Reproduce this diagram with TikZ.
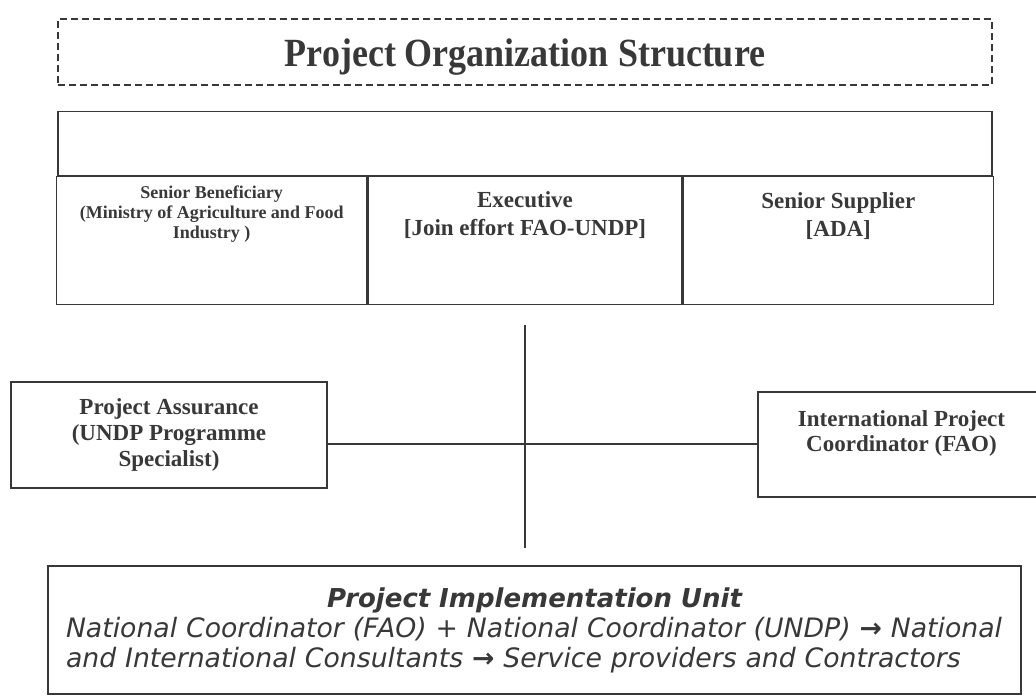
\documentclass[tikz,border=0pt]{standalone}
\usepackage{fontspec}
\setmainfont{Liberation Serif}
\newfontfamily\titlefont[FakeStretch=0.9]{Liberation Serif}
\newfontfamily\piufont{DejaVu Sans}
\usetikzlibrary{positioning}

\definecolor{ink}{gray}{0.22}

\newcommand{\thento}{{\bfseries\upshape →}}

\tikzset{
    box/.style={rectangle, draw=ink, line width=1.3pt, inner sep=0pt},
    cell/.style={box, minimum height=128pt},
    celltext/.style={anchor=north, align=center, inner sep=0pt, text=ink, font=\fontsize{23}{28}\selectfont\bfseries},
    link/.style={draw=ink, line width=1.2pt}
}

\begin{document}
\begin{tikzpicture}[x=1pt, y=-1pt, node distance=0pt, text=ink]
    \path[use as bounding box, clip] (0,0) rectangle (1036,696);

    % Title
    \node[box, dash pattern=on 7pt off 4pt, line width=1.5pt, minimum width=934pt, minimum height=66pt, text height=38pt, text depth=9pt, font=\titlefont\fontsize{40}{44}\selectfont\bfseries] (title) at (525,52) {Project Organization Structure};

    % Project board
    \node[box, minimum width=934pt, minimum height=64pt, below=25pt of title] (board) {};
    \node[cell, minimum width=314pt, below=of board, label={[celltext, yshift=-15pt]90:{Executive\\{[}Join effort FAO-UNDP{]}}}] (exec) {};
    \node[cell, minimum width=310pt, left=of exec, label={[celltext, yshift=-10pt, font=\fontsize{18}{20}\selectfont\bfseries]90:{Senior Beneficiary\\(Ministry of Agriculture and Food\\Industry )}}] (benef) {};
    \node[cell, minimum width=310pt, right=of exec, label={[celltext, yshift=-16pt]90:{Senior Supplier\\{[}ADA{]}}}] (supplier) {};

    % Assurance and coordination
    \node[box, minimum width=316pt, minimum height=106pt, align=center, font=\fontsize{23}{26}\selectfont\bfseries] (assurance) at (169,435) {Project Assurance\\(UNDP Programme\\Specialist)};
    \node[box, minimum width=287pt, minimum height=105pt, label={[celltext, yshift=-19pt, font=\fontsize{23}{25}\selectfont\bfseries]90:{International Project\\Coordinator (FAO)}}] (intl) at (901.5,444.5) {};

    % Implementation unit
    \node[box, minimum width=973pt, minimum height=128pt, text width=937pt, align=left, font=\piufont\fontsize{26.7}{30}\selectfont\itshape] (piu) at (534.5,630) {\makebox[\linewidth]{\fontsize{26}{30}\selectfont\bfseries Project Implementation Unit}\\National Coordinator (FAO) + National Coordinator (UNDP) \thento{} National\\and International Consultants \thento{} Service providers and Contractors};

    % Lines
    \coordinate (spine_top) at (525,325);
    \coordinate (spine_bottom) at (525,548);
    \coordinate (hub) at (525,444);
    \draw[link] (spine_top) -- (spine_bottom);
    \draw[link] (assurance.east |- hub) -- (intl.west |- hub);

\end{tikzpicture}
\end{document}
